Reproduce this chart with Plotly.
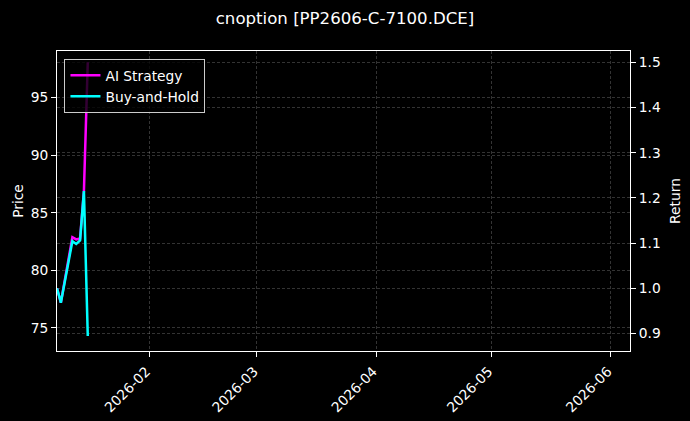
import plotly.graph_objects as go

# daily bars
dates = ["2026-01-08", "2026-01-09", "2026-01-12", "2026-01-13",
         "2026-01-14", "2026-01-15", "2026-01-16"]
ai_strategy = [1.000, 0.968, 1.113, 1.108, 1.110, 1.215, 1.500]
buy_hold = [1.000, 0.968, 1.104, 1.098, 1.106, 1.215, 0.894]

price_range = [73.0, 99.05]
return_range = [0.861, 1.525]
date_range = ["2026-01-08", "2026-06-06"]

FONT = "DejaVu Sans"
FS = 13.8
GRID = "rgba(255,255,255,0.2)"

fig = go.Figure()
# empty trace so the left (price) axis gets drawn
fig.add_trace(go.Scatter(x=[], y=[], showlegend=False, hoverinfo="skip"))
fig.add_trace(go.Scatter(x=dates, y=ai_strategy, mode="lines", name="AI Strategy",
                         line=dict(color="#ff00ff", width=2.5), yaxis="y2"))
fig.add_trace(go.Scatter(x=dates, y=buy_hold, mode="lines", name="Buy-and-Hold",
                         line=dict(color="#00ffff", width=2.5), yaxis="y2"))

axis_common = dict(
    showline=True, linecolor="white", linewidth=1,
    ticks="outside", ticklen=5, tickcolor="white", tickwidth=1,
    tickfont=dict(family=FONT, size=FS, color="white"),
    showgrid=True, gridcolor=GRID, griddash="3px,2px", gridwidth=0.5,
    zeroline=False, automargin=False,
)

fig.update_layout(
    width=690, height=421,
    paper_bgcolor="black", plot_bgcolor="black",
    margin=dict(l=57, r=60, t=51, b=70),
    font=dict(family=FONT, color="white", size=FS),
    title=dict(text="cnoption [PP2606-C-7100.DCE]", x=0.5, xanchor="center",
               y=0.957, yanchor="middle", font=dict(family=FONT, size=16.6, color="white")),
    xaxis=dict(range=date_range, type="date", dtick="M1", tick0="2026-01-01",
               tickformat="%Y-%m", tickangle=-45, mirror=True,
               ticklabelstandoff=1, ticklabelshift=-3, **axis_common),
    yaxis=dict(range=price_range, dtick=5, side="left",
               title=dict(text="Price", standoff=3, font=dict(family=FONT, size=FS)),
               **axis_common),
    yaxis2=dict(range=return_range, dtick=0.1, tickformat=".1f", side="right",
                overlaying="y",
                title=dict(text="Return", standoff=10, font=dict(family=FONT, size=FS)),
                **axis_common),
    legend=dict(x=0.013, y=0.974, xanchor="left", yanchor="top",
                bgcolor="rgba(0,0,0,0.8)", bordercolor="#cccccc", borderwidth=1,
                tracegroupgap=0, itemwidth=30,
                font=dict(family=FONT, size=FS, color="white")),
    showlegend=True,
)

fig.write_html("out.html", config={"displayModeBar": False},
               post_script="document.body.style.margin='0';"
                           "document.body.style.background='black';")
